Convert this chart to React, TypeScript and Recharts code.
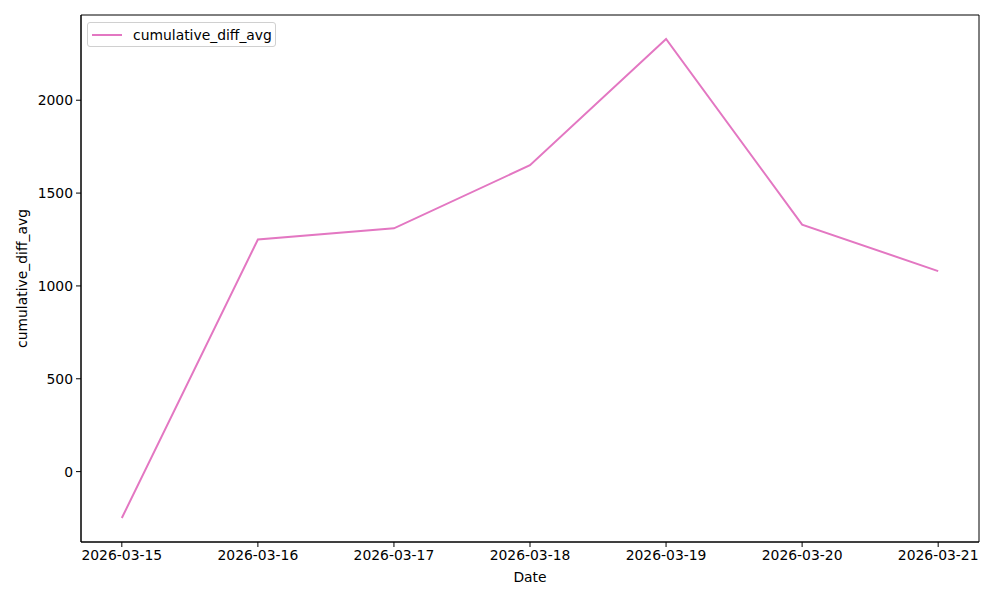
import React from 'react';
import { LineChart, Line, XAxis, YAxis, Legend, ReferenceArea } from 'recharts';

const dates = ['2026-03-15', '2026-03-16', '2026-03-17', '2026-03-18', '2026-03-19', '2026-03-20', '2026-03-21'];
const cumulativeDiffAvg = [-250, 1250, 1310, 1650, 2330, 1330, 1080];
const yTicks = [0, 500, 1000, 1500, 2000];

const data = dates.map((d, i) => ({ idx: i, cumulative_diff_avg: cumulativeDiffAvg[i] }));

const FONT = 'DejaVu Sans, sans-serif';
const FS = 13.9;
const PINK = '#e377c2';
const X_DOM: [number, number] = [-0.3, 6.3];
const Y_DOM: [number, number] = [-379, 2459];

const Legend_: React.FC<any> = () => (
  <div style={{
    position: 'absolute', left: 87, top: 22, width: 189, height: 25,
    border: '1px solid #d0d0d0', borderRadius: 3, background: 'rgba(255,255,255,0.8)',
    display: 'flex', alignItems: 'center', fontFamily: FONT, fontSize: FS, color: '#000',
    boxSizing: 'border-box',
  }}>
    <span style={{ display: 'inline-block', width: 30, height: 2, background: PINK, marginLeft: 4, marginRight: 11 }}/>
    cumulative_diff_avg
  </div>
);

export default function App() {
  return (
    <div style={{ position: 'absolute', left: 0, top: 0, width: 1000, height: 600, background: '#fff' }}>
      <LineChart width={1000} height={600} data={data} margin={{ top: 15, right: 21, left: 0, bottom: 0 }}>
        <XAxis dataKey="idx" type="number" domain={X_DOM} ticks={[0, 1, 2, 3, 4, 5, 6]}
          tickFormatter={(v: number) => dates[v] ?? ''} height={58}
          tick={{ fill: '#000', fontSize: FS, fontFamily: FONT }}
          tickSize={5} tickMargin={3}
          axisLine={{ stroke: '#000' }} tickLine={{ stroke: '#000' }}
          label={{ value: 'Date', position: 'insideBottom', offset: 18, fill: '#000', fontSize: FS, fontFamily: FONT }}/>
        <YAxis type="number" domain={Y_DOM} ticks={yTicks} width={81}
          tick={{ fill: '#000', fontSize: FS, fontFamily: FONT }}
          tickSize={5} tickMargin={3}
          axisLine={{ stroke: '#000' }} tickLine={{ stroke: '#000' }}
          label={{ value: 'cumulative_diff_avg', angle: -90, position: 'insideLeft', offset: 22, fill: '#000', fontSize: FS, fontFamily: FONT, style: { textAnchor: 'middle' } }}/>
        <ReferenceArea x1={X_DOM[0]} x2={X_DOM[1]} y1={Y_DOM[0]} y2={Y_DOM[1]}
          fill="none" stroke="#000" strokeWidth={1} ifOverflow="extendDomain"/>
        <Legend content={() => <Legend_/>} wrapperStyle={{ position: 'absolute', left: 0, top: 0 }}/>
        <Line type="linear" dataKey="cumulative_diff_avg" stroke={PINK} strokeWidth={2} dot={false}
          isAnimationActive={false}/>
      </LineChart>
    </div>
  );
}
